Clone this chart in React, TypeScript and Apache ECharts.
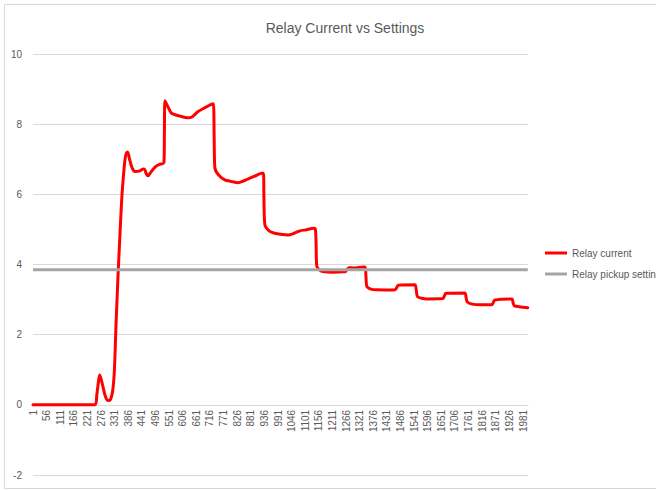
import React, { useEffect, useRef } from "react";
import * as echarts from "echarts";

const titleText = "Relay Current vs Settings";
const seriesNames = ["Relay current", "Relay pickup setting"];
const pointCount = 2000;
const xTickStep = 55;
const yMin = -2;
const yMax = 10;
const yStep = 2;

// sample index (0-based, label = index + 1) and relay current value
const relayIdx = [
  0, 250, 258, 270, 280, 292, 303, 313, 322, 329, 335, 343, 351, 358, 364, 371, 378, 383,
  390, 398, 406, 414, 432, 445, 452, 458, 465, 475, 492, 510, 529, 531, 533, 545, 560, 594,
  627, 645, 667, 695, 722, 729, 732, 735, 750, 775, 800, 829, 850, 876, 900, 924, 931, 933,
  937, 955, 977, 1000, 1031, 1055, 1078, 1105, 1132, 1141, 1144, 1147, 1160, 1171, 1210,
  1252, 1264, 1276, 1300, 1341, 1345, 1349, 1365, 1388, 1454, 1466, 1476, 1543, 1548, 1553,
  1570, 1591, 1656, 1662, 1668, 1745, 1750, 1755, 1775, 1806, 1854, 1860, 1866, 1935, 1940,
  1945, 1970, 1999,
];
const relayVal = [
  0, 0, 0.3, 0.85, 0.6, 0.25, 0.12, 0.15, 0.4, 1.0, 2.2, 3.6, 4.8, 5.8, 6.4, 6.95, 7.2, 7.2,
  7.0, 6.8, 6.68, 6.65, 6.67, 6.72, 6.7, 6.58, 6.53, 6.62, 6.77, 6.85, 6.9, 7.8, 8.67, 8.5,
  8.31, 8.23, 8.18, 8.22, 8.36, 8.47, 8.57, 8.58, 7.6, 6.75, 6.55, 6.41, 6.37, 6.33, 6.38,
  6.46, 6.53, 6.6, 6.6, 5.9, 5.13, 4.95, 4.89, 4.86, 4.84, 4.89, 4.96, 4.99, 5.03, 5.0, 4.5,
  3.94, 3.83, 3.8, 3.78, 3.79, 3.81, 3.91, 3.9, 3.93, 3.7, 3.37, 3.3, 3.28, 3.27, 3.3, 3.41,
  3.42, 3.3, 3.09, 3.04, 3.02, 3.03, 3.1, 3.18, 3.19, 3.05, 2.93, 2.87, 2.85, 2.85, 2.92,
  2.99, 3.02, 2.9, 2.82, 2.79, 2.77,
];
const pickupSetting = 3.85;

export default function App() {
  const ref = useRef<HTMLDivElement>(null);
  useEffect(() => {
    if (!ref.current) return;
    const chart = echarts.init(ref.current, undefined, { renderer: "svg" });
    const font = "'Liberation Sans', Arial, sans-serif";
    const relayData = relayIdx.map((x, k) => [x, relayVal[k]]);
    const pickupData = [
      [0, pickupSetting],
      [pointCount - 1, pickupSetting],
    ];
    const gridTop = 54;
    const gridBottom = 15;
    const plotH = 490 - gridTop - gridBottom;
    const zeroOffset = -((0 - yMin) / (yMax - yMin)) * plotH;
    chart.setOption({
      animation: false,
      backgroundColor: "#ffffff",
      title: {
        text: titleText,
        left: 340,
        top: 16,
        textAlign: "center",
        textStyle: { color: "#595959", fontSize: 14, fontWeight: "normal", fontFamily: font },
      },
      legend: {
        orient: "vertical",
        left: 545,
        top: 246,
        padding: 0,
        icon: "rect",
        itemWidth: 22,
        itemHeight: 3,
        itemGap: 7,
        textStyle: { color: "#595959", fontSize: 10, lineHeight: 14, fontFamily: font },
        data: seriesNames,
      },
      graphic: [
        {
          type: "rect",
          shape: { x: 4.5, y: 4.5, width: 720, height: 484 },
          style: { fill: "none", stroke: "#D9D9D9", lineWidth: 1 },
          silent: true,
        },
      ],
      grid: {
        left: 33,
        right: 128,
        top: gridTop,
        bottom: gridBottom,
        containLabel: false,
        outerBoundsMode: "none",
      },
      xAxis: {
        type: "value",
        min: 0,
        max: pointCount,
        interval: xTickStep,
        offset: zeroOffset,
        axisLine: { onZero: false, lineStyle: { color: "#D9D9D9", width: 1 } },
        axisTick: { show: false },
        splitLine: { show: false },
        axisLabel: {
          rotate: 90,
          margin: 5,
          color: "#595959",
          fontSize: 10,
          fontFamily: font,
          showMaxLabel: false,
          formatter: (v: number) => String(v + 1),
        },
      },
      yAxis: {
        type: "value",
        min: yMin,
        max: yMax,
        interval: yStep,
        axisLine: { show: false },
        axisTick: { show: false },
        splitLine: { lineStyle: { color: "#D9D9D9", width: 1 } },
        axisLabel: { color: "#595959", fontSize: 10, fontFamily: font, margin: 11 },
      },
      series: [
        {
          name: seriesNames[0],
          type: "line",
          data: relayData,
          symbol: "none",
          smooth: 0.25,
          lineStyle: { color: "#FF0000", width: 3, join: "round", cap: "round" },
          itemStyle: { color: "#FF0000" },
        },
        {
          name: seriesNames[1],
          type: "line",
          data: pickupData,
          symbol: "none",
          lineStyle: { color: "#A5A5A5", width: 3 },
          itemStyle: { color: "#A5A5A5" },
        },
      ],
    });
    return () => chart.dispose();
  }, []);
  return (
    <div
      ref={ref}
      style={{ position: "fixed", left: 0, top: 0, width: 656, height: 490 }}
    />
  );
}
